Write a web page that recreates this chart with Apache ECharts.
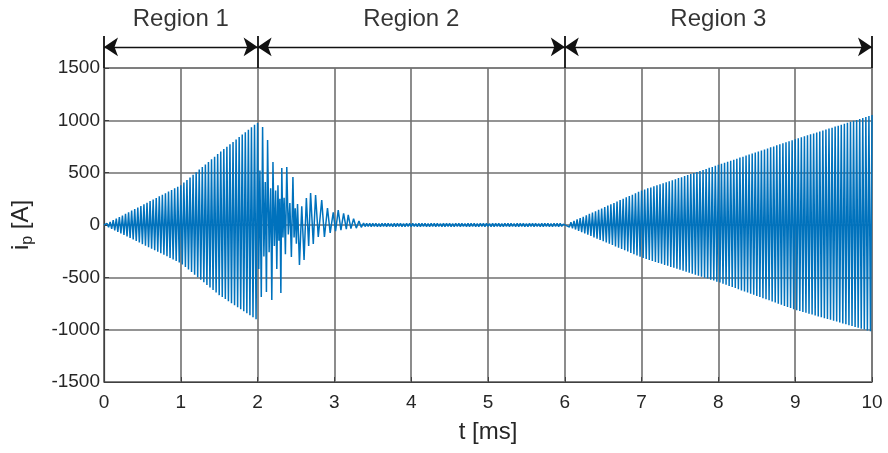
<!DOCTYPE html>
<html>
<head>
<meta charset="utf-8">
<script src="https://cdn.jsdelivr.net/npm/echarts@6/dist/echarts.min.js"></script>
<style>html,body{margin:0;padding:0;background:#fff}#c{width:888px;height:453px}</style>
</head>
<body>
<div id="c"></div>
<script>
// ---------------- DATA ----------------
// Region 1: growing oscillation, successive peaks every 0.02 ms starting at t = 0
const region1Start = 0;
const region1Step = 0.02;
const region1Peaks = [
  0, -7, 15, -22, 30, -37, 46, -51, 61, -66,
  76, -80, 91, -95, 106, -110, 122, -124, 137, -139,
  152, -153, 167, -168, 182, -183, 198, -197, 213, -212,
  228, -226, 243, -241, 258, -256, 274, -270, 289, -285,
  304, -299, 319, -314, 334, -329, 350, -343, 365, -358,
  380, -377, 405, -402, 430, -426, 454, -450, 479, -475,
  504, -499, 529, -524, 554, -548, 578, -572, 603, -597,
  628, -621, 653, -646, 678, -670, 702, -689, 725, -708,
  748, -728, 771, -747, 794, -766, 818, -785, 841, -804,
  864, -824, 887, -843, 910, -862, 934, -881, 957, -900
];
// Region 2a: decaying transient after t = 2 ms (peak times in ms, peak values in A)
const region2Times = [
  2.000, 2.015, 2.030, 2.048, 2.065, 2.082, 2.100, 2.115, 2.130, 2.150,
  2.170, 2.185, 2.200, 2.218, 2.235, 2.250, 2.265, 2.278, 2.290, 2.303,
  2.315, 2.330, 2.345, 2.362, 2.380, 2.400, 2.420, 2.440, 2.460, 2.475,
  2.490, 2.505, 2.520, 2.545, 2.575, 2.605, 2.635, 2.665, 2.690, 2.725,
  2.755, 2.790, 2.835, 2.870, 2.910, 2.945, 2.985, 3.015, 3.050, 3.085,
  3.120, 3.155, 3.180, 3.215, 3.250, 3.285, 3.320, 3.350
];
const region2Peaks = [
  975, -420, 520, -688, 937, -300, 410, -640, 813, -260,
  350, -717, 602, -200, 330, -420, 380, -150, 250, -650,
  545, -120, 260, -280, 555, -90, 210, -306, 459, -120,
  160, -180, 200, -382, 180, -335, 258, -200, 306, -180,
  287, -115, 239, -115, 162, -76, 120, -60, 143, -50,
  110, -40, 96, -35, 60, -30, 38, -22
];
// Region 2b: small residual ripple, peaks every 0.02 ms starting at t = 3.38 ms
const rippleStart = 3.38;
const rippleStep = 0.02;
const ripplePeaks = [
  18, -15, 16, -14, 17, -16, 15, -14, 16, -15,
  14, -16, 17, -13, 15, -15, 16, -14, 14, -16,
  17, -15, 15, -13, 16, -16, 14, -15, 17, -14,
  15, -16, 16, -13, 14, -15, 17, -16, 15, -14,
  16, -15, 14, -16, 17, -13, 15, -15, 16, -14,
  14, -16, 17, -15, 15, -13, 16, -16, 14, -15,
  17, -14, 15, -16, 16, -13, 14, -15, 17, -16,
  15, -14, 16, -15, 14, -16, 17, -13, 15, -15,
  16, -14, 14, -16, 17, -15, 15, -13, 16, -16,
  14, -15, 17, -14, 15, -16, 16, -13, 14, -15,
  17, -16, 15, -14, 16, -15, 14, -16, 17, -13,
  15, -15, 16, -14, 14, -16, 17, -15, 15, -13,
  16, -16, 14, -15, 17, -14, 15, -16, 16, -13,
  8
];
// Region 3: growing oscillation, peaks every 0.02 ms starting at t = 6 ms
const region3Start = 6.0;
const region3Step = 0.02;
const region3Peaks = [
  0, -6, 13, -19, 26, -31, 40, -43, 53, -56,
  66, -68, 79, -81, 92, -93, 106, -105, 119, -118,
  132, -130, 145, -143, 158, -155, 172, -167, 185, -180,
  198, -192, 211, -205, 224, -217, 238, -229, 251, -242,
  264, -254, 277, -267, 290, -279, 304, -291, 317, -304,
  330, -315, 340, -324, 350, -334, 359, -343, 369, -353,
  379, -362, 389, -371, 399, -381, 408, -390, 418, -400,
  428, -409, 438, -418, 448, -428, 457, -437, 467, -447,
  477, -456, 487, -465, 497, -475, 506, -484, 516, -494,
  526, -503, 536, -512, 546, -522, 555, -531, 565, -541,
  575, -550, 585, -561, 595, -571, 604, -582, 614, -593,
  624, -603, 634, -614, 644, -625, 653, -635, 663, -646,
  673, -656, 683, -667, 693, -678, 702, -688, 712, -699,
  722, -709, 732, -720, 742, -731, 751, -741, 761, -752,
  771, -762, 781, -773, 791, -784, 800, -794, 810, -805,
  820, -814, 829, -822, 838, -831, 848, -839, 857, -848,
  866, -856, 875, -864, 884, -873, 894, -881, 903, -890,
  912, -898, 921, -906, 930, -915, 940, -923, 949, -932,
  958, -940, 967, -948, 976, -957, 986, -965, 995, -974,
  1004, -982, 1013, -990, 1022, -999, 1032, -1007, 1041, -1016,
  1050
];
// Region annotation
const regionBounds = [0, 2, 6, 10];
const regionLabels = ['Region 1', 'Region 2', 'Region 3'];
// Axis ranges
const xMin = 0, xMax = 10, xStep = 1;
const yMin = -1500, yMax = 1500, yStep = 500;

// ---------------- BUILD ----------------
const r4 = v => Math.round(v * 10000) / 10000;
const trace = [];
region1Peaks.forEach((v, k) => trace.push([r4(region1Start + k * region1Step), v]));
region2Times.forEach((t, k) => trace.push([t, region2Peaks[k]]));
ripplePeaks.forEach((v, k) => trace.push([r4(rippleStart + k * rippleStep), v]));
region3Peaks.forEach((v, k) => trace.push([r4(region3Start + k * region3Step), v]));

const FONT = '"Liberation Sans", Arial, Helvetica, sans-serif';
const arrowLevel = 0.31, barTop = 0.47, labelLevel = 0.72;

const arrowLines = regionLabels.map((_, i) => [
  { coord: [regionBounds[i], arrowLevel] },
  { coord: [regionBounds[i + 1], arrowLevel] }
]);
const barLines = regionBounds.map(b => [
  { coord: [b, 0] },
  { coord: [b, barTop] }
]);
const labelPoints = regionLabels.map((name, i) => ({
  name: name,
  value: [(regionBounds[i] + regionBounds[i + 1]) / 2, labelLevel]
}));

const chart = echarts.init(document.getElementById('c'), null, { renderer: 'canvas' });
chart.setOption({
  animation: false,
  backgroundColor: '#fff',
  grid: [
    { left: 104, right: 16, top: 68, bottom: 71, show: true, borderColor: '#555', borderWidth: 1, containLabel: false },
    { left: 104, right: 16, top: 0, height: 68, show: false }
  ],
  xAxis: [
    {
      gridIndex: 0, type: 'value', min: xMin, max: xMax, interval: xStep,
      axisLine: { show: true, onZero: false, lineStyle: { color: '#404040', width: 1.2 } },
      axisTick: { show: true, inside: true, length: 5, lineStyle: { color: '#404040' } },
      axisLabel: { color: '#262626', fontSize: 19, fontFamily: FONT, margin: 11, formatter: v => String(v) },
      splitLine: { show: true, lineStyle: { color: '#707070', width: 1.6 } },
      name: 't [ms]', nameLocation: 'middle', nameGap: 38,
      nameTextStyle: { color: '#262626', fontSize: 24, fontFamily: FONT }
    },
    { gridIndex: 1, type: 'value', min: xMin, max: xMax, show: false }
  ],
  yAxis: [
    {
      gridIndex: 0, type: 'value', min: yMin, max: yMax, interval: yStep,
      axisLine: { show: true, onZero: false, lineStyle: { color: '#404040', width: 1.2 } },
      axisTick: { show: true, inside: true, length: 5, lineStyle: { color: '#404040' } },
      axisLabel: { color: '#262626', fontSize: 19, fontFamily: FONT, margin: 4, formatter: v => String(v) },
      splitLine: { show: true, lineStyle: { color: '#707070', width: 1.6 } },
      name: '{m|i}{s|p}{m| [A]}', nameLocation: 'middle', nameGap: 68,
      nameTextStyle: {
        color: '#262626', fontFamily: FONT,
        rich: {
          m: { fontSize: 24, lineHeight: 30, color: '#262626', fontFamily: FONT },
          s: { fontSize: 16, lineHeight: 16, verticalAlign: 'bottom', color: '#262626', fontFamily: FONT }
        }
      }
    },
    { gridIndex: 1, type: 'value', min: 0, max: 1, show: false }
  ],
  series: [
    {
      type: 'line', xAxisIndex: 0, yAxisIndex: 0,
      data: trace, showSymbol: false, symbol: 'none',
      lineStyle: { color: '#0072BD', width: 1.5 },
      silent: true
    },
    {
      type: 'scatter', xAxisIndex: 1, yAxisIndex: 1,
      data: labelPoints, symbolSize: 1, itemStyle: { color: 'rgba(0,0,0,0)' },
      label: { show: true, position: 'inside', formatter: '{b}', color: '#000', fontSize: 24, fontFamily: FONT },
      silent: true,
      markLine: {
        silent: true, animation: false,
        symbol: ['arrow', 'arrow'], symbolSize: 14,
        label: { show: false },
        lineStyle: { color: '#111', width: 1.4, type: 'solid' },
        itemStyle: { color: '#000' },
        emphasis: { disabled: true },
        data: arrowLines
      }
    },
    {
      type: 'scatter', xAxisIndex: 1, yAxisIndex: 1,
      data: labelPoints, symbolSize: 0, itemStyle: { color: 'rgba(0,0,0,0)' },
      silent: true,
      markLine: {
        silent: true, animation: false,
        symbol: ['none', 'none'],
        label: { show: false },
        lineStyle: { color: '#111', width: 1.8, type: 'solid' },
        emphasis: { disabled: true },
        data: barLines
      }
    }
  ]
});
</script>
</body>
</html>
